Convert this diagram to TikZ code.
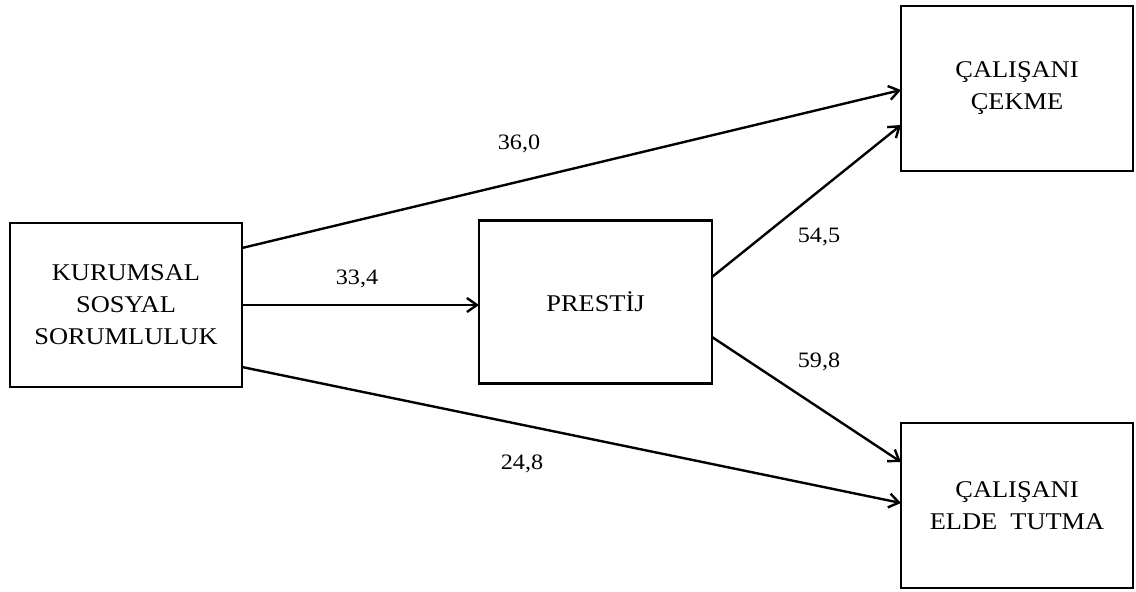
\documentclass[tikz,border=0pt]{standalone}
\usepackage{fontspec}
\setmainfont{Liberation Serif}[FakeStretch=1.1]
\usetikzlibrary{arrows.meta}
\tikzset{
  box/.style={draw=black, line width=2.4pt, minimum width=232pt, minimum height=164pt,
    inner sep=0pt, outer sep=0pt, align=center, font=\fontsize{24}{32}\selectfont},
  conn/.style={line width=2.4pt, -{Straight Barb[length=10pt,width=14pt]}},
  lbl/.style={inner sep=0pt, font=\fontsize{22}{26}\selectfont}
}
\begin{document}
\begin{tikzpicture}[x=1pt,y=-1pt]
\useasboundingbox (0,0) rectangle (1136,592);
\node[box] (kss) at (126,305) {KURUMSAL\\SOSYAL\\SORUMLULUK};
\node[box, minimum width=233pt, minimum height=163pt] (pre) at (595.5,302) {PRESTİJ};
\node[box, minimum height=165pt] (cek) at (1017,88.5) {ÇALIŞANI\\ÇEKME};
\node[box, minimum height=165pt] (elde) at (1017,505.5) {ÇALIŞANI\\ELDE\ \ TUTMA};
\draw[conn] ([yshift=57pt]kss.east) -- ([yshift=-1.5pt]cek.west);
\draw[conn] (kss.east) -- (kss.east -| pre.west);
\draw[conn] ([yshift=-62pt]kss.east) -- ([yshift=2.5pt]elde.west);
\draw[conn] ([yshift=25pt]pre.east) -- ([yshift=-36.5pt]cek.west);
\draw[conn] ([yshift=-35pt]pre.east) -- ([yshift=43.5pt]elde.west);
\node[lbl] (l1) at (519,144) {36,0};
\node[lbl] (l2) at (357,279) {33,4};
\node[lbl] (l3) at (522,464) {24,8};
\node[lbl] (l4) at (819,237) {54,5};
\node[lbl] (l5) at (819,362) {59,8};
\end{tikzpicture}
\end{document}
